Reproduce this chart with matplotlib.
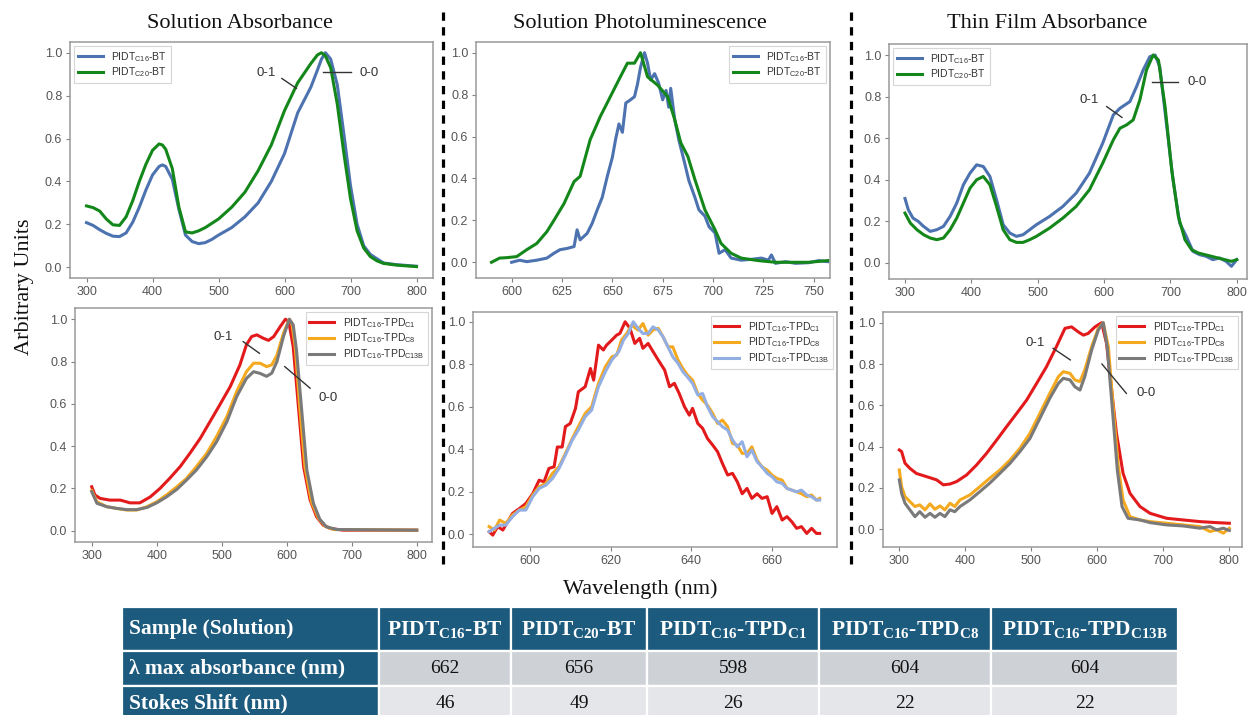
import matplotlib
matplotlib.use("Agg")
import matplotlib.pyplot as plt
from matplotlib.lines import Line2D
from matplotlib.patches import Rectangle

# ---------------------------------------------------------------- data
# Solution absorbance, BT copolymers
sol_bt_wl = [300, 310, 320, 330, 340, 350, 360, 370, 380, 390, 400, 410, 415, 420, 430, 440, 450,
             460, 470, 480, 490, 500, 520, 540, 560, 580, 600, 620, 640, 650, 656, 662, 670, 680,
             690, 700, 710, 720, 730, 740, 750, 770, 800]
sol_c16_bt = [0.208, 0.195, 0.175, 0.158, 0.145, 0.143, 0.16, 0.21, 0.28, 0.36, 0.43, 0.47, 0.477,
              0.47, 0.41, 0.27, 0.15, 0.12, 0.11, 0.115, 0.13, 0.15, 0.185, 0.235, 0.30, 0.40, 0.53,
              0.72, 0.84, 0.92, 0.97, 1.00, 0.97, 0.85, 0.62, 0.38, 0.20, 0.10, 0.06, 0.04, 0.02,
              0.012, 0.005]
sol_c20_bt = [0.286, 0.278, 0.262, 0.225, 0.198, 0.195, 0.235, 0.31, 0.40, 0.48, 0.545, 0.575, 0.57,
              0.55, 0.46, 0.28, 0.165, 0.16, 0.17, 0.185, 0.205, 0.225, 0.28, 0.35, 0.45, 0.57, 0.73,
              0.86, 0.95, 0.99, 1.00, 0.985, 0.93, 0.76, 0.53, 0.32, 0.17, 0.09, 0.05, 0.03, 0.018,
              0.01, 0.003]

# Solution photoluminescence, BT copolymers
pl_c16_bt_wl = [600, 604, 607.5, 612.5, 617.5, 621, 624, 627.5, 631, 632.5, 634, 637.5, 640, 642.5,
                645, 647.5, 650, 651.7, 653.3, 655, 656.7, 659, 661, 662.5, 664, 666, 667.5, 669,
                671, 673, 675, 676.7, 678, 679, 681, 683, 686, 688, 691, 693, 696, 698, 701, 703,
                706, 709, 714, 719, 724, 727.5, 729, 731, 736, 741, 747.5, 752.5, 757]
pl_c16_bt = [0.0, 0.01, 0.003, 0.01, 0.02, 0.043, 0.06, 0.066, 0.075, 0.155, 0.107, 0.138, 0.186,
             0.25, 0.31, 0.41, 0.50, 0.59, 0.66, 0.62, 0.76, 0.775, 0.79, 0.85, 0.93, 1.0, 0.95,
             0.87, 0.90, 0.855, 0.775, 0.82, 0.74, 0.83, 0.68, 0.585, 0.47, 0.39, 0.31, 0.25, 0.22,
             0.17, 0.14, 0.043, 0.06, 0.02, 0.01, 0.014, 0.02, 0.01, 0.035, -0.005, 0.003, -0.005,
             -0.002, 0.008, 0.003]
pl_c20_bt_wl = [590, 594, 597.5, 602.5, 607.5, 612.5, 617.5, 621, 626, 631, 634, 639, 644, 649, 654,
                657.5, 661, 664, 667.5, 672.5, 677.5, 681, 684, 687.5, 691, 696, 701, 704, 709, 714,
                722.5, 731, 739, 747.5, 757]
pl_c20_bt = [0.0, 0.02, 0.022, 0.027, 0.06, 0.09, 0.146, 0.20, 0.28, 0.385, 0.41, 0.585, 0.695, 0.79,
             0.885, 0.95, 0.95, 1.0, 0.885, 0.845, 0.79, 0.68, 0.57, 0.505, 0.395, 0.25, 0.155, 0.09,
             0.043, 0.02, 0.008, 0.0, 0.0, 0.0, 0.008]

# Thin film absorbance, BT copolymers
film_c16_bt_wl = [300, 305, 312, 320, 328, 338, 348, 358, 368, 378, 388, 398, 408, 418, 428, 438, 448,
                  458, 468, 478, 488, 498, 518, 538, 558, 578, 598, 614, 624, 639, 649, 659, 669, 677,
                  684, 694, 704, 714, 724, 734, 744, 754, 764, 774, 784, 792, 800]
film_c16_bt = [0.31, 0.256, 0.216, 0.20, 0.176, 0.152, 0.16, 0.176, 0.224, 0.288, 0.376, 0.432, 0.472,
               0.464, 0.416, 0.304, 0.184, 0.144, 0.128, 0.136, 0.16, 0.184, 0.224, 0.272, 0.336,
               0.432, 0.576, 0.712, 0.744, 0.776, 0.848, 0.928, 0.992, 1.0, 0.944, 0.672, 0.40, 0.192,
               0.128, 0.056, 0.04, 0.032, 0.016, 0.024, 0.008, -0.016, 0.016]
film_c20_bt_wl = [300, 308, 318, 328, 338, 348, 358, 368, 378, 388, 398, 408, 418, 428, 438, 448, 458,
                  468, 478, 488, 498, 518, 538, 558, 578, 598, 614, 624, 634, 644, 654, 664, 674, 682,
                  692, 702, 712, 722, 732, 742, 752, 762, 772, 782, 792, 800]
film_c20_bt = [0.24, 0.192, 0.16, 0.136, 0.12, 0.112, 0.12, 0.16, 0.216, 0.288, 0.36, 0.40, 0.416,
               0.376, 0.272, 0.16, 0.112, 0.099, 0.099, 0.112, 0.128, 0.168, 0.216, 0.272, 0.352,
               0.48, 0.592, 0.648, 0.664, 0.688, 0.784, 0.928, 1.0, 0.976, 0.752, 0.448, 0.224, 0.112,
               0.064, 0.048, 0.04, 0.032, 0.024, 0.016, 0.008, 0.016]

# Solution absorbance, TPD copolymers
sol_tpd_c1_wl = [300, 305, 313, 328, 344, 359, 374, 390, 405, 420, 436, 451, 467, 482, 497, 513, 528,
                 538, 546, 554, 564, 572, 580, 590, 598, 603, 610, 618, 626, 636, 646, 656, 667, 687,
                 720, 800]
sol_tpd_c1 = [0.208, 0.169, 0.153, 0.145, 0.145, 0.132, 0.132, 0.16, 0.20, 0.248, 0.303, 0.366, 0.437,
              0.516, 0.595, 0.681, 0.784, 0.879, 0.918, 0.926, 0.91, 0.90, 0.918, 0.965, 1.0, 0.99,
              0.87, 0.587, 0.303, 0.145, 0.066, 0.027, 0.011, 0.003, 0.003, 0.003]
sol_tpd_c8_wl = [300, 308, 323, 338, 354, 369, 385, 400, 415, 431, 446, 461, 477, 492, 508, 523, 538,
                 549, 559, 569, 577, 585, 595, 604, 608, 613, 620, 628, 638, 649, 659, 672, 800]
sol_tpd_c8 = [0.19, 0.137, 0.114, 0.106, 0.098, 0.098, 0.114, 0.137, 0.169, 0.208, 0.248, 0.303,
              0.366, 0.445, 0.54, 0.658, 0.752, 0.792, 0.792, 0.776, 0.784, 0.83, 0.934, 1.0, 0.98,
              0.87, 0.587, 0.303, 0.137, 0.058, 0.022, 0.006, 0.003]
sol_tpd_c13b_wl = [300, 308, 323, 338, 354, 369, 385, 400, 415, 431, 446, 461, 477, 492, 508, 523, 538,
                   549, 559, 569, 577, 585, 595, 604, 610, 615, 623, 631, 641, 651, 661, 677, 800]
sol_tpd_c13b = [0.185, 0.13, 0.114, 0.106, 0.10, 0.10, 0.11, 0.132, 0.16, 0.196, 0.24, 0.287, 0.35,
                0.42, 0.516, 0.634, 0.72, 0.752, 0.744, 0.73, 0.745, 0.80, 0.918, 1.0, 0.973, 0.855,
                0.571, 0.287, 0.13, 0.054, 0.019, 0.006, 0.003]

# Solution photoluminescence, TPD copolymers
pl_tpd_c1_wl = [589.9, 590.8, 592, 593.3, 594.5, 595.7, 597.4, 599, 600.7, 602.3, 603.5, 604.7, 606,
                606.8, 608, 608.8, 610, 611.3, 612, 613.7, 615, 615.8, 617, 618.2, 619, 620.3, 621.5,
                622.3, 623.6, 624.8, 626, 627.2, 628, 629.3, 630.5, 631.8, 633.4, 634.6, 635.8, 637,
                638.3, 639.5, 640.3, 641.6, 642.8, 644, 645.3, 646.5, 647.7, 649, 650.2, 651.4, 652.6,
                653.8, 655, 656.3, 657.5, 658.8, 660, 661.2, 662.5, 663.7, 664.9, 666.1, 667.3, 668.6,
                669.8, 671, 671.8]
pl_tpd_c1 = [0.011, -0.005, 0.035, 0.019, 0.058, 0.097, 0.12, 0.144, 0.19, 0.254, 0.246, 0.309, 0.317,
             0.41, 0.41, 0.506, 0.521, 0.592, 0.67, 0.694, 0.78, 0.725, 0.89, 0.867, 0.89, 0.914,
             0.937, 0.945, 1.0, 0.969, 0.898, 0.922, 0.875, 0.898, 0.86, 0.82, 0.772, 0.694, 0.71,
             0.662, 0.6, 0.56, 0.592, 0.521, 0.498, 0.45, 0.419, 0.388, 0.333, 0.278, 0.286, 0.246,
             0.19, 0.215, 0.168, 0.19, 0.168, 0.176, 0.097, 0.129, 0.066, 0.082, 0.058, 0.027, 0.035,
             0.003, 0.027, 0.003, 0.003]
pl_tpd_c8_wl = [589.9, 591.2, 592.5, 594, 595.7, 597.4, 599, 600.7, 602.3, 604, 605.6, 607.2, 608.8,
                610.5, 612, 613.7, 615.3, 617, 618.7, 620.3, 621.5, 622.7, 624, 625.2, 626.8, 628,
                629.3, 630.5, 631.8, 633, 634.2, 635.4, 636.7, 637.9, 639, 640.3, 641.6, 642.8, 644,
                645.3, 646.5, 647.7, 649, 650.2, 651.4, 652.6, 653.8, 655, 656.3, 657.5, 658.8, 660,
                661.2, 662.5, 663.7, 664.9, 666.1, 667.3, 668.6, 669.8, 671, 671.8]
pl_tpd_c8 = [0.035, 0.019, 0.066, 0.05, 0.09, 0.113, 0.129, 0.184, 0.223, 0.239, 0.286, 0.317, 0.38,
             0.45, 0.506, 0.568, 0.6, 0.71, 0.788, 0.835, 0.843, 0.914, 0.945, 0.984, 0.961, 0.992,
             0.937, 0.961, 0.969, 0.929, 0.882, 0.882, 0.82, 0.78, 0.75, 0.725, 0.662, 0.631, 0.607,
             0.568, 0.521, 0.537, 0.506, 0.427, 0.419, 0.38, 0.38, 0.411, 0.348, 0.317, 0.301, 0.278,
             0.262, 0.254, 0.215, 0.207, 0.199, 0.19, 0.176, 0.184, 0.16, 0.168]
pl_tpd_c13b_wl = [589.9, 591.2, 592.5, 594, 595.7, 597.4, 599, 600.7, 602.3, 604, 605.6, 607.2, 608.8,
                  610.5, 612, 613.7, 615.3, 617, 618.7, 620.3, 622, 623.2, 624.4, 625.6, 626.8, 628,
                  629.3, 630.5, 631.8, 633, 634.2, 635.4, 636.7, 637.9, 639, 640.3, 641.6, 642.8, 644,
                  645.3, 646.5, 647.7, 649, 650.2, 651.4, 652.6, 653.8, 655, 656.3, 657.5, 658.8, 660,
                  661.2, 662.5, 663.7, 664.9, 666.1, 667.3, 668.6, 669.8, 671, 671.8]
pl_tpd_c13b = [0.011, 0.027, 0.042, 0.042, 0.082, 0.113, 0.113, 0.176, 0.215, 0.231, 0.262, 0.309,
               0.372, 0.443, 0.49, 0.553, 0.584, 0.694, 0.765, 0.82, 0.859, 0.914, 0.945, 1.0, 0.969,
               0.945, 0.945, 0.976, 0.961, 0.929, 0.882, 0.835, 0.804, 0.765, 0.741, 0.71, 0.655,
               0.662, 0.6, 0.553, 0.529, 0.506, 0.49, 0.443, 0.411, 0.435, 0.364, 0.396, 0.341, 0.317,
               0.286, 0.27, 0.246, 0.239, 0.215, 0.207, 0.199, 0.207, 0.184, 0.176, 0.16, 0.16]

# Thin film absorbance, TPD copolymers
film_tpd_c1_wl = [300, 303.5, 308.6, 316, 326, 341, 356.6, 366.7, 376.8, 386.9, 402, 417, 432.3, 447.5,
                  462.6, 477.8, 493, 508, 523, 538, 551, 561, 571, 578.8, 586, 596.5, 606.5, 614,
                  621.7, 629, 639, 649.5, 664.6, 680, 705, 730, 755.5, 780.8, 800]
film_tpd_c1 = [0.384, 0.376, 0.32, 0.295, 0.27, 0.255, 0.239, 0.215, 0.219, 0.231, 0.263, 0.311, 0.368,
               0.432, 0.497, 0.561, 0.626, 0.706, 0.787, 0.884, 0.973, 0.98, 0.956, 0.94, 0.948, 0.98,
               1.0, 0.90, 0.674, 0.465, 0.271, 0.174, 0.11, 0.077, 0.053, 0.045, 0.037, 0.032, 0.029]
film_tpd_c8_wl = [300, 303.5, 308.6, 316, 323.7, 331, 339, 346.5, 354, 361.6, 369, 376.8, 384, 392, 407,
                  422, 437, 452.5, 467.7, 482.8, 498, 513, 528, 541, 548.5, 558.6, 566, 573.7, 581,
                  591.4, 601.5, 609, 616.7, 624, 631.8, 639, 649.5, 664.6, 680, 705, 730, 755.5, 770.7,
                  780.8, 791, 800]
film_tpd_c8 = [0.287, 0.206, 0.158, 0.134, 0.11, 0.118, 0.094, 0.123, 0.097, 0.113, 0.094, 0.126, 0.11,
               0.142, 0.166, 0.206, 0.247, 0.287, 0.335, 0.392, 0.465, 0.561, 0.658, 0.739, 0.763,
               0.755, 0.723, 0.715, 0.771, 0.884, 0.973, 1.0, 0.884, 0.594, 0.303, 0.142, 0.061, 0.045,
               0.037, 0.029, 0.021, 0.013, -0.011, -0.003, -0.019, 0.005]
film_tpd_c13b_wl = [300, 303.5, 308.6, 316, 323.7, 331, 339, 346.5, 354, 361.6, 369, 376.8, 384, 392,
                    407, 422, 437, 452.5, 467.7, 482.8, 498, 513, 528, 541, 548.5, 558.6, 566, 573.7,
                    581, 591.4, 601.5, 609, 615, 622.5, 630.3, 637.4, 646.5, 664.6, 680, 705, 730,
                    755.5, 770.7, 780.8, 791, 800]
film_tpd_c13b = [0.239, 0.174, 0.126, 0.094, 0.061, 0.085, 0.058, 0.077, 0.058, 0.077, 0.061, 0.094,
                 0.085, 0.11, 0.142, 0.182, 0.223, 0.271, 0.319, 0.376, 0.44, 0.537, 0.634, 0.706,
                 0.731, 0.723, 0.69, 0.674, 0.739, 0.868, 0.965, 1.0, 0.884, 0.594, 0.287, 0.11, 0.053,
                 0.045, 0.032, 0.021, 0.016, 0.005, 0.013, -0.003, 0.005, -0.006]

# Summary table
table_header = ["Sample (Solution)", "PIDT$\\mathregular{_{C16}}$-BT", "PIDT$\\mathregular{_{C20}}$-BT",
                "PIDT$\\mathregular{_{C16}}$-TPD$\\mathregular{_{C1}}$",
                "PIDT$\\mathregular{_{C16}}$-TPD$\\mathregular{_{C8}}$",
                "PIDT$\\mathregular{_{C16}}$-TPD$\\mathregular{_{C13B}}$"]
row_labels = ["λ max absorbance (nm)", "Stokes Shift (nm)"]
lambda_max = [662, 656, 598, 604, 604]
stokes_shift = [46, 49, 26, 22, 22]

# Legend labels
lbl_c16_bt = "PIDT$\\mathregular{_{C16}}$-BT"
lbl_c20_bt = "PIDT$\\mathregular{_{C20}}$-BT"
lbl_c1 = "PIDT$\\mathregular{_{C16}}$-TPD$\\mathregular{_{C1}}$"
lbl_c8 = "PIDT$\\mathregular{_{C16}}$-TPD$\\mathregular{_{C8}}$"
lbl_c13b = "PIDT$\\mathregular{_{C16}}$-TPD$\\mathregular{_{C13B}}$"

# ---------------------------------------------------------------- styling
BLUE = "#4c72b0"
GREEN = "#14871a"
RED = "#e31a1c"
ORANGE = "#f4a91f"
GREY = "#7a7a7a"
LIGHTBLUE = "#93aee3"
LW = 2.2
SANS = "Liberation Sans"
SERIF = "Liberation Serif"

W, H = 1248, 715
fig = plt.figure(figsize=(W / 100, H / 100), dpi=100)


def add_ax(left, top, right, bottom):
    return fig.add_axes([left / W, 1 - bottom / H, (right - left) / W, (bottom - top) / H])


def style(ax, xlim, ylim, xticks):
    ax.set_xlim(*xlim)
    ax.set_ylim(*ylim)
    ax.set_xticks(xticks)
    ax.set_yticks([0.0, 0.2, 0.4, 0.6, 0.8, 1.0])
    for s in ax.spines.values():
        s.set_color("#9a9a9a")
        s.set_linewidth(1.1)
    ax.tick_params(direction="out", length=3, width=0.8, color="#808080",
                   labelcolor="#555555", labelsize=9, pad=2.5)
    for lab in ax.get_xticklabels() + ax.get_yticklabels():
        lab.set_fontfamily(SANS)


def legend(ax, loc):
    leg = ax.legend(loc=loc, prop={"family": SANS, "size": 7.5}, handlelength=2.4,
                    borderpad=0.35, labelspacing=0.2, handletextpad=0.8,
                    frameon=True, fancybox=False, borderaxespad=0.4)
    leg.get_frame().set_edgecolor("#cccccc")
    leg.get_frame().set_linewidth(0.8)
    for t in leg.get_texts():
        t.set_color("#333333")


def mark(ax, text, tx, ty, x0, y0, x1, y1, ha="center"):
    ax.text(tx, ty, text, fontsize=9.5, family=SANS, color="#333333", ha=ha, va="center")
    ax.plot([x0, x1], [y0, y1], color="#333333", lw=1.0)


abs_ticks = [300, 400, 500, 600, 700, 800]

# top-left: solution absorbance (BT)
ax1 = add_ax(70, 42, 433, 278)
ax1.plot(sol_bt_wl, sol_c16_bt, color=BLUE, lw=LW, label=lbl_c16_bt)
ax1.plot(sol_bt_wl, sol_c20_bt, color=GREEN, lw=LW, label=lbl_c20_bt)
style(ax1, (275, 825), (-0.05, 1.05), abs_ticks)
legend(ax1, "upper left")
mark(ax1, "0-1", 573, 0.905, 596, 0.88, 618, 0.834)
mark(ax1, "0-0", 728, 0.905, 659, 0.91, 700, 0.91)

# top-middle: solution PL (BT)
ax2 = add_ax(476, 42, 830, 278)
ax2.plot(pl_c16_bt_wl, pl_c16_bt, color=BLUE, lw=LW, label=lbl_c16_bt)
ax2.plot(pl_c20_bt_wl, pl_c20_bt, color=GREEN, lw=LW, label=lbl_c20_bt)
style(ax2, (582.3, 758.1), (-0.075, 1.051), [600, 625, 650, 675, 700, 725, 750])
legend(ax2, "upper right")

# top-right: thin film absorbance (BT)
ax3 = add_ax(889, 44, 1247, 279)
ax3.plot(film_c16_bt_wl, film_c16_bt, color=BLUE, lw=LW, label=lbl_c16_bt)
ax3.plot(film_c20_bt_wl, film_c20_bt, color=GREEN, lw=LW, label=lbl_c20_bt)
style(ax3, (275.9, 815.5), (-0.077, 1.053), abs_ticks)
legend(ax3, "upper left")
mark(ax3, "0-1", 577, 0.785, 604, 0.752, 627, 0.70)
mark(ax3, "0-0", 740, 0.872, 672, 0.872, 712, 0.872)

# bottom-left: solution absorbance (TPD)
ax4 = add_ax(75, 308, 432, 542)
ax4.plot(sol_tpd_c1_wl, sol_tpd_c1, color=RED, lw=LW, label=lbl_c1)
ax4.plot(sol_tpd_c8_wl, sol_tpd_c8, color=ORANGE, lw=LW, label=lbl_c8)
ax4.plot(sol_tpd_c13b_wl, sol_tpd_c13b, color=GREY, lw=LW, label=lbl_c13b)
style(ax4, (274.3, 823.5), (-0.053, 1.053), abs_ticks)
legend(ax4, "upper right")
mark(ax4, "0-1", 503, 0.918, 533, 0.894, 558, 0.839)
mark(ax4, "0-0", 664, 0.626, 597, 0.776, 636, 0.674)

# bottom-middle: solution PL (TPD)
ax5 = add_ax(473, 312, 837, 547)
ax5.plot(pl_tpd_c1_wl, pl_tpd_c1, color=RED, lw=LW, label=lbl_c1)
ax5.plot(pl_tpd_c8_wl, pl_tpd_c8, color=ORANGE, lw=LW, label=lbl_c8)
ax5.plot(pl_tpd_c13b_wl, pl_tpd_c13b, color=LIGHTBLUE, lw=LW, label=lbl_c13b)
style(ax5, (585.9, 676.1), (-0.061, 1.046), [600, 620, 640, 660])
legend(ax5, "upper right")

# bottom-right: thin film absorbance (TPD)
ax6 = add_ax(883, 312, 1242, 547)
ax6.plot(film_tpd_c1_wl, film_tpd_c1, color=RED, lw=LW, label=lbl_c1)
ax6.plot(film_tpd_c8_wl, film_tpd_c8, color=ORANGE, lw=LW, label=lbl_c8)
ax6.plot(film_tpd_c13b_wl, film_tpd_c13b, color=GREY, lw=LW, label=lbl_c13b)
style(ax6, (275.3, 819.2), (-0.086, 1.052), abs_ticks)
legend(ax6, "upper right")
mark(ax6, "0-1", 506, 0.90, 533, 0.876, 559, 0.82)
mark(ax6, "0-0", 674, 0.658, 607, 0.80, 644, 0.658)

# ---------------------------------------------------------------- figure labels
def ftext(x, y, s, **kw):
    fig.text(x / W, 1 - y / H, s, ha="center", va="center", family=SERIF, color="#111111", **kw)


ftext(240, 23, "Solution Absorbance", fontsize=16)
ftext(640, 23, "Solution Photoluminescence", fontsize=16)
ftext(1047, 23, "Thin Film Absorbance", fontsize=16)
ftext(24, 287, "Arbitrary Units", fontsize=16, rotation=90)
ftext(640, 589, "Wavelength (nm)", fontsize=16)

for xp in (443, 851):
    fig.add_artist(Line2D([xp / W, xp / W], [1 - 12 / H, 1 - 570 / H], transform=fig.transFigure,
                          color="black", lw=2.3, linestyle=(0, (2.6, 2.0))))

# ---------------------------------------------------------------- table
col_edges = [122, 379, 511, 647, 819, 991, 1178]
row_edges = [606.7, 651, 685.5, 722]
HEAD = "#1d5b7e"
ROW_BG = ["#ced1d6", "#e4e6e9"]

tab = fig.add_axes([122 / W, 1 - 722 / H, (1178 - 122) / W, (722 - 606.7) / H])
tab.set_xlim(col_edges[0], col_edges[-1])
tab.set_ylim(row_edges[-1], row_edges[0])
tab.axis("off")

for r in range(3):
    y0, y1 = row_edges[r], row_edges[r + 1]
    for c in range(6):
        x0, x1 = col_edges[c], col_edges[c + 1]
        face = HEAD if (r == 0 or c == 0) else ROW_BG[r - 1]
        tab.add_patch(Rectangle((x0, y0), x1 - x0, y1 - y0, facecolor=face,
                                edgecolor="white", lw=1.6, clip_on=False))

yc = [(row_edges[i] + row_edges[i + 1]) / 2 for i in range(3)]
tab.text(col_edges[0] + 7, yc[0], table_header[0], ha="left", va="center", color="white",
         family=SERIF, fontweight="bold", fontsize=15.5)
for c in range(1, 6):
    xc = (col_edges[c] + col_edges[c + 1]) / 2
    tab.text(xc, yc[0] + 1, table_header[c], ha="center", va="center", color="white",
             family=SERIF, fontweight="bold", fontsize=15.5)
for r, lab in enumerate(row_labels):
    tab.text(col_edges[0] + 7, yc[r + 1], lab, ha="left", va="center", color="white",
             family=SERIF, fontweight="bold", fontsize=15.5)
for c, (lm, ss) in enumerate(zip(lambda_max, stokes_shift)):
    xc = (col_edges[c + 1] + col_edges[c + 2]) / 2
    tab.text(xc, yc[1], str(lm), ha="center", va="center", color="#111111", family=SERIF, fontsize=14)
    tab.text(xc, yc[2], str(ss), ha="center", va="center", color="#111111", family=SERIF, fontsize=14)

fig.savefig("out.png", dpi=100, facecolor="white")
